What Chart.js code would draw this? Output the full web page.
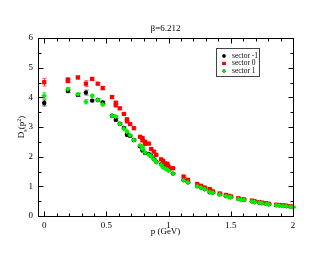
<!DOCTYPE html>
<html>
<head>
<meta charset="utf-8">
<script src="https://cdn.jsdelivr.net/npm/chart.js@4.4.1/dist/chart.umd.min.js"></script>
<style>
  html, body { margin: 0; padding: 0; background: #fff; }
</style>
</head>
<body>
<canvas id="chart" width="330" height="255"></canvas>
<script>
// momenta (GeV) and propagator values
const pMinus = [0, 0.19, 0.27, 0.335, 0.385, 0.43, 0.47, 0.545, 0.575, 0.607, 0.64, 0.665, 0.69, 0.72, 0.77, 0.79, 0.81, 0.84, 0.86, 0.88, 0.90, 0.94, 0.955, 0.975, 0.99, 1.0, 1.035, 1.12, 1.155, 1.23, 1.26, 1.29, 1.33, 1.355, 1.41, 1.46, 1.485, 1.5, 1.56, 1.585, 1.605, 1.67, 1.69, 1.73, 1.75, 1.785, 1.805, 1.865, 1.89, 1.92, 1.945, 1.98, 2.0];
const dMinus = [3.81, 4.21, 4.08, 4.16, 3.89, 3.91, 3.83, 3.38, 3.24, 3.11, 2.97, 2.74, 2.7, 2.56, 2.35, 2.21, 2.12, 2.09, 2.02, 1.92, 1.83, 1.75, 1.66, 1.62, 1.58, 1.56, 1.43, 1.21, 1.14, 1.01, 0.96, 0.91, 0.8, 0.79, 0.73, 0.68, 0.66, 0.64, 0.58, 0.56, 0.55, 0.5, 0.48, 0.45, 0.44, 0.42, 0.4, 0.37, 0.36, 0.35, 0.34, 0.32, 0.3];
const eMinus = [0.1, 0.05, 0.05, 0.08, 0.04, 0.04, 0.04, 0.04, 0.04, 0.03, 0.03, 0.05, 0.03, 0.03, 0.03, 0.02, 0.02, 0.02, 0.02, 0.02, 0.02, 0.02, 0.02, 0.02, 0.02, 0.02, 0.02, 0.02, 0.02, 0.02, 0.02, 0.02, 0.02, 0.02, 0.02, 0.02, 0.02, 0.02, 0.02, 0.02, 0.02, 0.02, 0.02, 0.02, 0.02, 0.02, 0.02, 0.02, 0.02, 0.02, 0.02, 0.02, 0.02];

const pZero = [0, 0.19, 0.19, 0.27, 0.335, 0.385, 0.43, 0.47, 0.545, 0.575, 0.575, 0.607, 0.64, 0.665, 0.665, 0.69, 0.72, 0.77, 0.79, 0.79, 0.81, 0.81, 0.84, 0.86, 0.88, 0.90, 0.94, 0.955, 0.975, 0.99, 0.99, 1.0, 1.035, 1.12, 1.155, 1.23, 1.26, 1.29, 1.33, 1.355, 1.41, 1.46, 1.485, 1.5, 1.56, 1.585, 1.605, 1.67, 1.69, 1.73, 1.75, 1.785, 1.805, 1.865, 1.89, 1.92, 1.945, 1.98, 2.0];
const dZero = [4.51, 4.6, 4.55, 4.67, 4.46, 4.62, 4.46, 4.31, 4.01, 3.82, 3.73, 3.63, 3.44, 3.26, 3.19, 3.1, 2.96, 2.67, 2.63, 2.55, 2.5, 2.43, 2.44, 2.26, 2.17, 2.06, 1.91, 1.86, 1.77, 1.76, 1.7, 1.66, 1.61, 1.33, 1.22, 1.08, 1.02, 0.96, 0.91, 0.83, 0.76, 0.71, 0.68, 0.66, 0.6, 0.57, 0.56, 0.52, 0.5, 0.47, 0.45, 0.43, 0.41, 0.38, 0.37, 0.36, 0.35, 0.33, 0.31];
const eZero = [0.13, 0.05, 0.05, 0.05, 0.1, 0.05, 0.04, 0.05, 0.04, 0.04, 0.04, 0.03, 0.03, 0.03, 0.03, 0.03, 0.03, 0.03, 0.03, 0.03, 0.03, 0.03, 0.03, 0.03, 0.03, 0.02, 0.02, 0.02, 0.02, 0.02, 0.02, 0.02, 0.02, 0.02, 0.02, 0.02, 0.02, 0.02, 0.02, 0.02, 0.02, 0.02, 0.02, 0.02, 0.02, 0.02, 0.02, 0.02, 0.02, 0.02, 0.02, 0.02, 0.02, 0.02, 0.02, 0.02, 0.02, 0.02, 0.02];

const pPlus = [0, 0.19, 0.27, 0.335, 0.385, 0.43, 0.47, 0.545, 0.575, 0.607, 0.64, 0.665, 0.69, 0.72, 0.77, 0.79, 0.79, 0.81, 0.84, 0.86, 0.88, 0.90, 0.94, 0.955, 0.975, 0.99, 1.0, 1.035, 1.12, 1.155, 1.23, 1.26, 1.29, 1.33, 1.355, 1.41, 1.46, 1.485, 1.5, 1.56, 1.585, 1.605, 1.67, 1.69, 1.73, 1.75, 1.785, 1.805, 1.865, 1.89, 1.92, 1.945, 1.98, 2.0];
const dPlus = [4.05, 4.28, 4.1, 3.85, 4.05, 3.91, 3.76, 3.38, 3.35, 3.11, 2.94, 2.84, 2.72, 2.56, 2.38, 2.33, 2.26, 2.14, 2.06, 2.01, 1.91, 1.82, 1.73, 1.64, 1.59, 1.56, 1.53, 1.43, 1.2, 1.13, 1.0, 0.95, 0.9, 0.81, 0.78, 0.72, 0.67, 0.64, 0.63, 0.57, 0.55, 0.54, 0.49, 0.47, 0.45, 0.43, 0.41, 0.39, 0.36, 0.35, 0.34, 0.33, 0.31, 0.29];
const ePlus = [0.1, 0.05, 0.05, 0.07, 0.05, 0.04, 0.04, 0.04, 0.04, 0.03, 0.03, 0.05, 0.03, 0.03, 0.03, 0.03, 0.03, 0.03, 0.03, 0.03, 0.02, 0.02, 0.02, 0.02, 0.02, 0.02, 0.02, 0.02, 0.02, 0.02, 0.02, 0.02, 0.02, 0.02, 0.02, 0.02, 0.02, 0.02, 0.02, 0.02, 0.02, 0.02, 0.02, 0.02, 0.02, 0.02, 0.02, 0.02, 0.02, 0.02, 0.02, 0.02, 0.02, 0.02];

const seriesNames = ["sector -1", "sector 0", "sector 1"];
const xMajor = [0, 0.5, 1, 1.5, 2];
const yMajor = [0, 1, 2, 3, 4, 5, 6];

const SERIF = "'Liberation Serif', 'DejaVu Serif', serif";

function toPoints(px, py) {
  return px.map((p, i) => ({ x: p, y: py[i] }));
}

// inward ticks on all four sides, frame, error bars, titles and legend box
const gracePlot = {
  id: "gracePlot",
  beforeDatasetsDraw(chart) {
    const { ctx, scales: { x, y } } = chart;
    ctx.save();
    ctx.lineWidth = 1;
    chart.data.datasets.forEach((ds) => {
      ctx.strokeStyle = ds.errColor;
      ds.data.forEach((pt, i) => {
        const err = ds.errors[i];
        const cx = Math.round(x.getPixelForValue(pt.x)) + 0.5;
        const y1 = y.getPixelForValue(pt.y + err);
        const y2 = y.getPixelForValue(pt.y - err);
        ctx.beginPath();
        ctx.moveTo(cx, y1); ctx.lineTo(cx, y2);
        ctx.moveTo(cx - 2, y1); ctx.lineTo(cx + 2, y1);
        ctx.moveTo(cx - 2, y2); ctx.lineTo(cx + 2, y2);
        ctx.stroke();
      });
    });
    ctx.restore();
  },
  afterDraw(chart) {
    const { ctx, chartArea: a, scales: { x, y } } = chart;
    ctx.save();
    ctx.strokeStyle = "#000";
    ctx.lineWidth = 1;
    const L = Math.round(a.left) + 0.5, R = Math.round(a.right) + 0.5;
    const T = Math.round(a.top) + 0.5, B = Math.round(a.bottom) + 0.5;
    ctx.strokeRect(L, T, R - L, B - T);

    ctx.beginPath();
    for (let v = 0; v <= 2.001; v += 0.1) {
      const major = xMajor.some((m) => Math.abs(m - v) < 1e-6);
      const len = major ? 5 : 3;
      const px = Math.round(x.getPixelForValue(v)) + 0.5;
      ctx.moveTo(px, B); ctx.lineTo(px, B - len);
      ctx.moveTo(px, T); ctx.lineTo(px, T + len);
    }
    for (let v = 0; v <= 6.001; v += 0.5) {
      const major = yMajor.some((m) => Math.abs(m - v) < 1e-6);
      const len = major ? 5 : 3;
      const py = Math.round(y.getPixelForValue(v)) + 0.5;
      ctx.moveTo(L, py); ctx.lineTo(L + len, py);
      ctx.moveTo(R, py); ctx.lineTo(R - len, py);
    }
    ctx.stroke();

    // title
    ctx.fillStyle = "#000";
    ctx.textAlign = "center";
    ctx.textBaseline = "middle";
    ctx.font = "9px " + SERIF;
    ctx.fillText("β=6.212", (a.left + a.right) / 2, 29);

    // x axis title
    ctx.fillText("p (GeV)", (a.left + a.right) / 2, 232);

    // y axis title D_s(p^2), rotated
    ctx.save();
    ctx.translate(22, (a.top + a.bottom) / 2);
    ctx.rotate(-Math.PI / 2);
    ctx.textAlign = "left";
    ctx.textBaseline = "middle";
    ctx.font = "9px " + SERIF;
    const w0 = ctx.measureText("D").width;
    ctx.font = "6px " + SERIF;
    const ws = ctx.measureText("s").width;
    ctx.font = "9px " + SERIF;
    const w1 = ctx.measureText("(p").width;
    ctx.font = "6px " + SERIF;
    const w2 = ctx.measureText("2").width;
    ctx.font = "9px " + SERIF;
    const w3 = ctx.measureText(")").width;
    let cx = -(w0 + ws + w1 + w2 + w3) / 2;
    ctx.fillText("D", cx, 0); cx += w0;
    ctx.font = "6px " + SERIF;
    ctx.fillText("s", cx, 3); cx += ws;
    ctx.font = "9px " + SERIF;
    ctx.fillText("(p", cx, 0); cx += w1;
    ctx.font = "6px " + SERIF;
    ctx.fillText("2", cx, -3); cx += w2;
    ctx.font = "9px " + SERIF;
    ctx.fillText(")", cx, 0);
    ctx.restore();

    // legend box
    ctx.strokeStyle = "#444";
    ctx.strokeRect(216.5, 48.5, 43, 28);
    ctx.font = "7.5px " + SERIF;
    ctx.textAlign = "left";
    chart.data.datasets.forEach((ds, i) => {
      const ly = 56 + i * 7.5;
      Chart.helpers.drawPoint(ctx, {
        pointStyle: ds.pointStyle, radius: ds.pointRadius * 0.75, borderWidth: 0, rotation: 0
      }, 224, ly);
      ctx.fillStyle = ds.backgroundColor;
      ctx.fill();
      ctx.fillStyle = "#000";
      ctx.fillText(seriesNames[i], 232, ly);
    });
    ctx.restore();
  }
};

const ctx = document.getElementById("chart").getContext("2d");
new Chart(ctx, {
  type: "scatter",
  data: {
    datasets: [
      { label: seriesNames[0], data: toPoints(pMinus, dMinus), errors: eMinus, errColor: "#555",
        pointStyle: "circle", pointRadius: 2.2, backgroundColor: "#000", borderWidth: 0, order: 2 },
      { label: seriesNames[1], data: toPoints(pZero, dZero), errors: eZero, errColor: "#ff5050",
        pointStyle: "rect", pointRadius: 3.0, backgroundColor: "#ff0000", borderWidth: 0, order: 1 },
      { label: seriesNames[2], data: toPoints(pPlus, dPlus), errors: ePlus, errColor: "#30e030",
        pointStyle: "rectRot", pointRadius: 2.7, backgroundColor: "#00ee00", borderWidth: 0, order: 0 }
    ]
  },
  options: {
    responsive: false,
    animation: false,
    devicePixelRatio: 1,
    layout: { padding: { left: 0, right: 37, top: 38, bottom: 0 } },
    plugins: { legend: { display: false }, tooltip: { enabled: false }, title: { display: false } },
    scales: {
      x: {
        type: "linear",
        min: -0.05,
        max: 2,
        grid: { display: false, drawTicks: false },
        border: { display: false },
        afterFit: (s) => { s.height = 39; },
        ticks: {
          stepSize: 0.5,
          includeBounds: false,
          padding: 4,
          color: "#000",
          font: { family: SERIF, size: 9 },
          maxRotation: 0,
          callback: (v) => (xMajor.includes(v) ? String(v) : "")
        }
      },
      y: {
        min: 0,
        max: 6,
        grid: { display: false, drawTicks: false },
        border: { display: false },
        afterFit: (s) => { s.width = 38; },
        ticks: {
          stepSize: 1,
          padding: 5,
          color: "#000",
          font: { family: SERIF, size: 9 }
        }
      }
    }
  },
  plugins: [gracePlot]
});
</script>
</body>
</html>
